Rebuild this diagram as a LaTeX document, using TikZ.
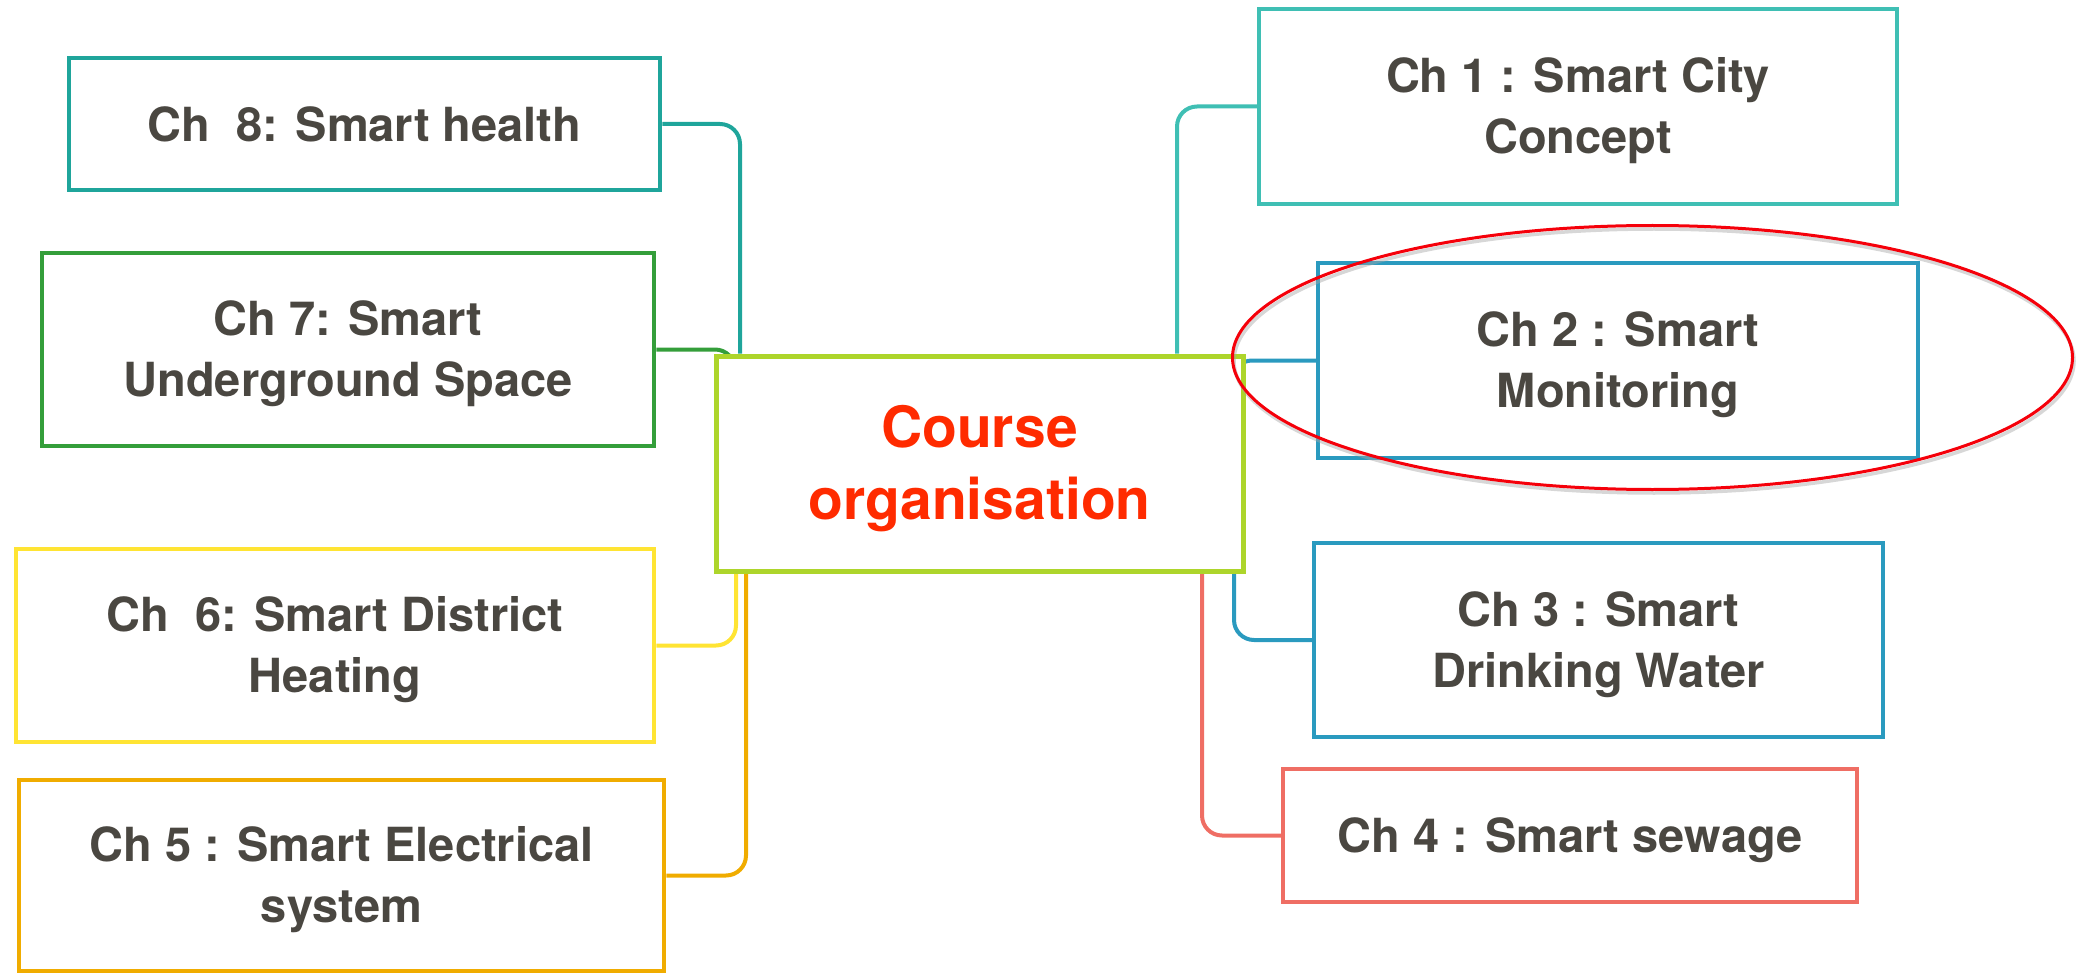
\documentclass[tikz,border=0pt]{standalone}
\usepackage{fontspec}
\setmainfont{TeX Gyre Heros}
\usetikzlibrary{backgrounds}

\definecolor{txtgray}{HTML}{4A4741}
\definecolor{hubred}{HTML}{FF2B00}
\definecolor{ringred}{HTML}{F5000A}
\definecolor{limec}{HTML}{ADD52B}
\definecolor{tealc}{HTML}{1FA59B}
\definecolor{greenc}{HTML}{349E3A}
\definecolor{yellowc}{HTML}{FFE433}
\definecolor{orangec}{HTML}{F0AC00}
\definecolor{turqc}{HTML}{3FBFB4}
\definecolor{bluec}{HTML}{2A9ABF}
\definecolor{salmonc}{HTML}{EF6E64}

% struts that balance descenders so the capitals sit in the middle of a box
\newcommand\chstrut{\rule{0pt}{44pt}}
\newcommand\hubstrut{\rule{0pt}{52pt}}

\tikzset{
  chbox/.style={draw, line width=4.5pt, fill=white, align=center,
    text=txtgray, inner sep=0pt,
    font=\fontsize{47}{61}\selectfont\bfseries},
  hubbox/.style={draw=limec, line width=5pt, fill=white, align=center,
    text=hubred, inner sep=0pt,
    font=\fontsize{57}{72}\selectfont\bfseries},
  link/.style={line width=4pt, rounded corners=20pt},
}

\begin{document}
\begin{tikzpicture}[x=1pt, y=-1pt]
\useasboundingbox (0,0) rectangle (2080,976);

% central topic
\node[hubbox, minimum width=527pt, minimum height=215pt] (hub) at (979.5,463.5)
  {\hubstrut Course\\organisation};

% chapters on the left
\node[chbox, draw=tealc,   minimum width=591pt, minimum height=132pt] (ch8) at (364.5,124)
  {Ch~~8: Smart health};
\node[chbox, draw=greenc,  minimum width=612pt, minimum height=193pt] (ch7) at (348,349.5)
  {\chstrut Ch 7: Smart\\Underground Space};
\node[chbox, draw=yellowc, minimum width=638pt, minimum height=193pt] (ch6) at (335,645.5)
  {\chstrut Ch~~6: Smart District\\Heating};
\node[chbox, draw=orangec, minimum width=645pt, minimum height=191pt] (ch5) at (341.5,875.5)
  {\chstrut Ch 5 : Smart Electrical\\system};

% chapters on the right
\node[chbox, draw=turqc,   minimum width=638pt, minimum height=195pt] (ch1) at (1578,106.5)
  {\chstrut Ch 1 : Smart City\\Concept};
\node[chbox, draw=bluec,   minimum width=600pt, minimum height=195pt] (ch2) at (1618,360.5)
  {\chstrut Ch 2 : Smart\\Monitoring};
\node[chbox, draw=bluec,   minimum width=569pt, minimum height=194pt] (ch3) at (1598.5,640)
  {\chstrut Ch 3 : Smart\\Drinking Water};
\node[chbox, draw=salmonc, minimum width=574pt, minimum height=133pt] (ch4) at (1570,835.5)
  {\chstrut Ch 4 : Smart sewage};

% columns where the branches run into the central box
\coordinate (j8) at (740,0);
\coordinate (j7) at (735,0);
\coordinate (j6) at (736,0);
\coordinate (j5) at (746,0);
\coordinate (j1) at (1177,0);
\coordinate (j2) at (1232,0);
\coordinate (j3) at (1234,0);
\coordinate (j4) at (1202,0);

\begin{scope}[on background layer]
  \draw[link, tealc]   (ch8.east) -| (hub.north -| j8);
  \draw[link, greenc]  (ch7.east) -| (hub.center -| j7);
  \draw[link, yellowc] (ch6.east) -| (hub.south -| j6);
  \draw[link, orangec] (ch5.east) -| (hub.south -| j5);
  \draw[link, turqc]   (ch1.west) -| (hub.north -| j1);
  \draw[link, bluec]   (ch2.west) -| (hub.center -| j2);
  \draw[link, bluec]   (ch3.west) -| (hub.south -| j3);
  \draw[link, salmonc] (ch4.west) -| (hub.south -| j4);
\end{scope}

% highlight ring around chapter 2
\draw[black!35, opacity=0.45, line width=3.5pt] (1654,361) ellipse [x radius=420, y radius=132];
\draw[ringred, line width=3pt] (1652.5,357.5) ellipse [x radius=420, y radius=132];
\end{tikzpicture}
\end{document}
